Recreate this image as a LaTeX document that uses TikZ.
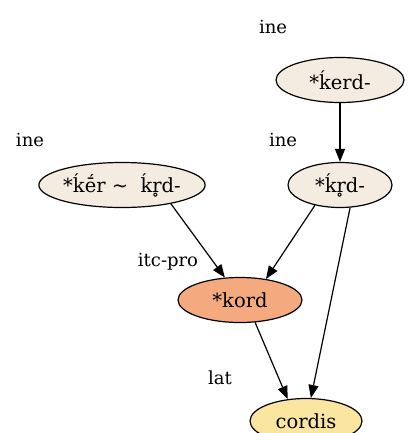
\documentclass[tikz,border=0pt]{standalone}
\usepackage{fontspec}
\setmainfont{DejaVu Serif}
\newfontfamily\lemmafont{DejaVu Serif}
\usetikzlibrary{shapes.geometric,arrows.meta}
\definecolor{inefill}{RGB}{245,236,225}
\definecolor{kordfill}{RGB}{244,170,126}
\definecolor{latfill}{RGB}{250,230,160}
\begin{document}
\begin{tikzpicture}[x=1pt,y=-1pt,
  lemma/.style={ellipse,draw=black,line width=1.2pt,inner sep=0pt,minimum height=45pt,font=\lemmafont\fontsize{19.5}{23}\selectfont},
  lang/.style={inner sep=0pt,font=\lemmafont\fontsize{18}{22}\selectfont},
  edge/.style={draw=black,line width=1.2pt,-{Triangle[length=13pt,width=10pt]}}]
\useasboundingbox (0,0) rectangle (410,433);
\node[lemma,fill=inefill,minimum width=128pt] (a) at (340,80) {*ḱerd-};
\node[lemma,fill=inefill,minimum width=166pt] (b) at (122,185) {*ḱḗr \textasciitilde\ \ ḱr̥d-};
\node[lemma,fill=inefill,minimum width=104pt] (c) at (340,185) {*ḱr̥d-};
\node[lemma,fill=kordfill,minimum width=124pt] (d) at (240,300) {*kord};
\node[lemma,fill=latfill,minimum width=112pt] (e) at (306,421) {cordis};
\node[lang] (la) at (273,27) {ine};
\node[lang] (lb) at (30,140) {ine};
\node[lang] (lc) at (283,140) {ine};
\node[lang] (ld) at (168,262) {itc-pro};
\node[lang] (le) at (220,378) {lat};
\draw[edge] (a) -- (c);
\draw[edge] (b.-21) -- (d.124);
\draw[edge] (c.-141) -- (d.39);
\draw[edge] (c.-66) -- (e.78);
\draw[edge] (d.-56) -- (e.130);
\end{tikzpicture}
\end{document}
